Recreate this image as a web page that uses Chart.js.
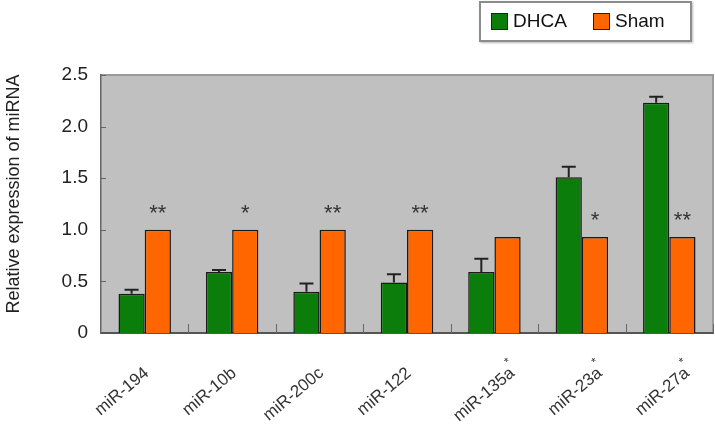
<!DOCTYPE html>
<html lang="en">

<head>
    <meta charset="UTF-8">
    <title>Relative expression of miRNA</title>
    <script src="https://cdn.jsdelivr.net/npm/chart.js"></script>
    <style>
        body {
            margin: 0;
            background: #ffffff;
            font-family: Arial, "Liberation Sans", sans-serif;
        }

        .janela {
            position: relative;
            width: 715px;
            height: 437px;
        }

        .legenda {
            position: absolute;
            left: 479px;
            top: 1px;
            width: 209px;
            height: 37px;
            border: 2px solid #8c8c8c;
            box-shadow: 1px 1px 2px #bbb;
            background: #fff;
            font-size: 19px;
            color: #111;
        }

        .item {
            position: absolute;
            top: 7px;
            line-height: 22px;
        }

        .caixa {
            display: inline-block;
            width: 15px;
            height: 15px;
            border: 1.5px solid #222;
            vertical-align: -3px;
            margin-right: 5px;
        }
    </style>
</head>

<body>

    <div class="janela">
        <canvas id="grafico" width="715" height="437"></canvas>
        <div class="legenda">
            <div class="item" style="left: 10px;"><span class="caixa" style="background:#0a7d0a"></span>DHCA</div>
            <div class="item" style="left: 112px;"><span class="caixa" style="background:#ff6600"></span>Sham</div>
        </div>
    </div>

</body>

<script>

    // dados
    var categorias = ['miR-194', 'miR-10b', 'miR-200c', 'miR-122', 'miR-135a', 'miR-23a', 'miR-27a'];
    var comAsterisco = [false, false, false, false, true, true, true];
    var dhca = [0.38, 0.59, 0.40, 0.49, 0.59, 1.51, 2.23];
    var dhcaErro = [0.04, 0.02, 0.08, 0.08, 0.13, 0.10, 0.06];
    var sham = [1.0, 1.0, 1.0, 1.0, 0.93, 0.93, 0.93];
    var significancia = ['**', '*', '**', '**', '', '*', '**'];
    var ticksY = [0, 0.5, 1.0, 1.5, 2.0, 2.5];

    var verde = '#0a7d0a';
    var laranja = '#ff6600';

    var pluginDesenho = {
        id: 'desenhoExtra',
        beforeDraw: function (chart) {
            var ctx = chart.ctx;
            var a = chart.chartArea;
            ctx.save();
            ctx.fillStyle = '#c0c0c0';
            ctx.fillRect(a.left, a.top, a.right - a.left, a.bottom - a.top);
            ctx.strokeStyle = '#9a9a9a';
            ctx.lineWidth = 2;
            ctx.beginPath();
            ctx.moveTo(a.left, a.top);
            ctx.lineTo(a.right, a.top);
            ctx.lineTo(a.right, a.bottom);
            ctx.stroke();
            ctx.restore();
        },
        afterDatasetsDraw: function (chart) {
            var ctx = chart.ctx;
            var a = chart.chartArea;
            var y = chart.scales.y;
            var x = chart.scales.x;
            ctx.save();

            // barras de erro (só a parte de cima)
            var meta = chart.getDatasetMeta(0);
            ctx.strokeStyle = '#222';
            ctx.lineWidth = 2;
            for (var i = 0; i < meta.data.length; i++) {
                var barra = meta.data[i];
                var topo = y.getPixelForValue(dhca[i] + dhcaErro[i]);
                ctx.beginPath();
                ctx.moveTo(barra.x, barra.y);
                ctx.lineTo(barra.x, topo);
                ctx.moveTo(barra.x - 7, topo);
                ctx.lineTo(barra.x + 7, topo);
                ctx.stroke();
            }

            // asteriscos de significância
            var metaSham = chart.getDatasetMeta(1);
            ctx.fillStyle = '#333';
            ctx.font = '22px "Liberation Sans", Arial';
            ctx.textAlign = 'center';
            ctx.textBaseline = 'middle';
            for (var j = 0; j < metaSham.data.length; j++) {
                if (significancia[j]) {
                    ctx.fillText(significancia[j], metaSham.data[j].x, metaSham.data[j].y - 16);
                }
            }

            // marcas do eixo y (para dentro)
            ctx.strokeStyle = '#666';
            ctx.lineWidth = 1;
            for (var k = 1; k < ticksY.length; k++) {
                var py = Math.round(y.getPixelForValue(ticksY[k])) + 0.5;
                ctx.beginPath();
                ctx.moveTo(a.left, py);
                ctx.lineTo(a.left + 5, py);
                ctx.stroke();
            }

            // separadores entre categorias
            var largura = (a.right - a.left) / categorias.length;
            for (var m = 1; m <= categorias.length; m++) {
                var px = Math.round(a.left + largura * m) + 0.5;
                ctx.beginPath();
                ctx.moveTo(px, a.bottom);
                ctx.lineTo(px, a.bottom - 9);
                ctx.stroke();
            }

            // rótulos do eixo x, girados, terminando no centro da categoria
            ctx.fillStyle = '#333';
            for (var n = 0; n < categorias.length; n++) {
                var cx = x.getPixelForValue(n) + 2 + (comAsterisco[n] ? 16 : 0);
                var cy = a.bottom + 38;
                ctx.save();
                ctx.translate(cx, cy);
                ctx.rotate(-40 * Math.PI / 180);
                ctx.font = '17px "Liberation Sans", Arial';
                ctx.textAlign = 'right';
                ctx.textBaseline = 'middle';
                ctx.fillText(categorias[n], 0, 0);
                if (comAsterisco[n]) {
                    ctx.font = '12px "Liberation Sans", Arial';
                    ctx.textAlign = 'left';
                    ctx.fillText('*', 0, -10);
                }
                ctx.restore();
            }

            // título do eixo y
            ctx.save();
            ctx.translate(14, 194);
            ctx.rotate(-Math.PI / 2);
            ctx.font = '18px "Liberation Sans", Arial';
            ctx.fillStyle = '#222';
            ctx.textAlign = 'center';
            ctx.textBaseline = 'middle';
            ctx.fillText('Relative expression of miRNA', 0, 0);
            ctx.restore();

            ctx.restore();
        }
    };

    var ctx = document.getElementById('grafico').getContext('2d');
    var myChart = new Chart(ctx, {
        type: 'bar',
        data: {
            labels: categorias,
            datasets: [{
                label: 'DHCA',
                data: dhca,
                backgroundColor: verde,
                borderColor: '#1a1a1a',
                borderWidth: 1.5,
                categoryPercentage: 0.6,
                barPercentage: 1.0
            }, {
                label: 'Sham',
                data: sham,
                backgroundColor: laranja,
                borderColor: '#1a1a1a',
                borderWidth: 1.5,
                categoryPercentage: 0.6,
                barPercentage: 1.0
            }]
        },
        options: {
            responsive: false,
            animation: false,
            layout: {
                padding: { top: 75, right: 2, left: 0, bottom: 0 }
            },
            plugins: {
                legend: { display: false },
                tooltip: { enabled: false }
            },
            scales: {
                x: {
                    grid: { display: false },
                    border: { color: '#555', width: 2 },
                    ticks: { display: false },
                    afterFit: function (scale) { scale.height = 104; }
                },
                y: {
                    min: 0,
                    max: 2.5,
                    grid: { display: false, drawTicks: false },
                    border: { color: '#666', width: 1.5 },
                    ticks: {
                        stepSize: 0.5,
                        padding: 13,
                        color: '#222',
                        font: { size: 19, family: '"Liberation Sans", Arial' },
                        callback: function (v) {
                            return v === 0 ? '0' : v.toFixed(1);
                        }
                    },
                    afterFit: function (scale) { scale.width = 101; }
                }
            }
        },
        plugins: [pluginDesenho]
    });

</script>

</html>
